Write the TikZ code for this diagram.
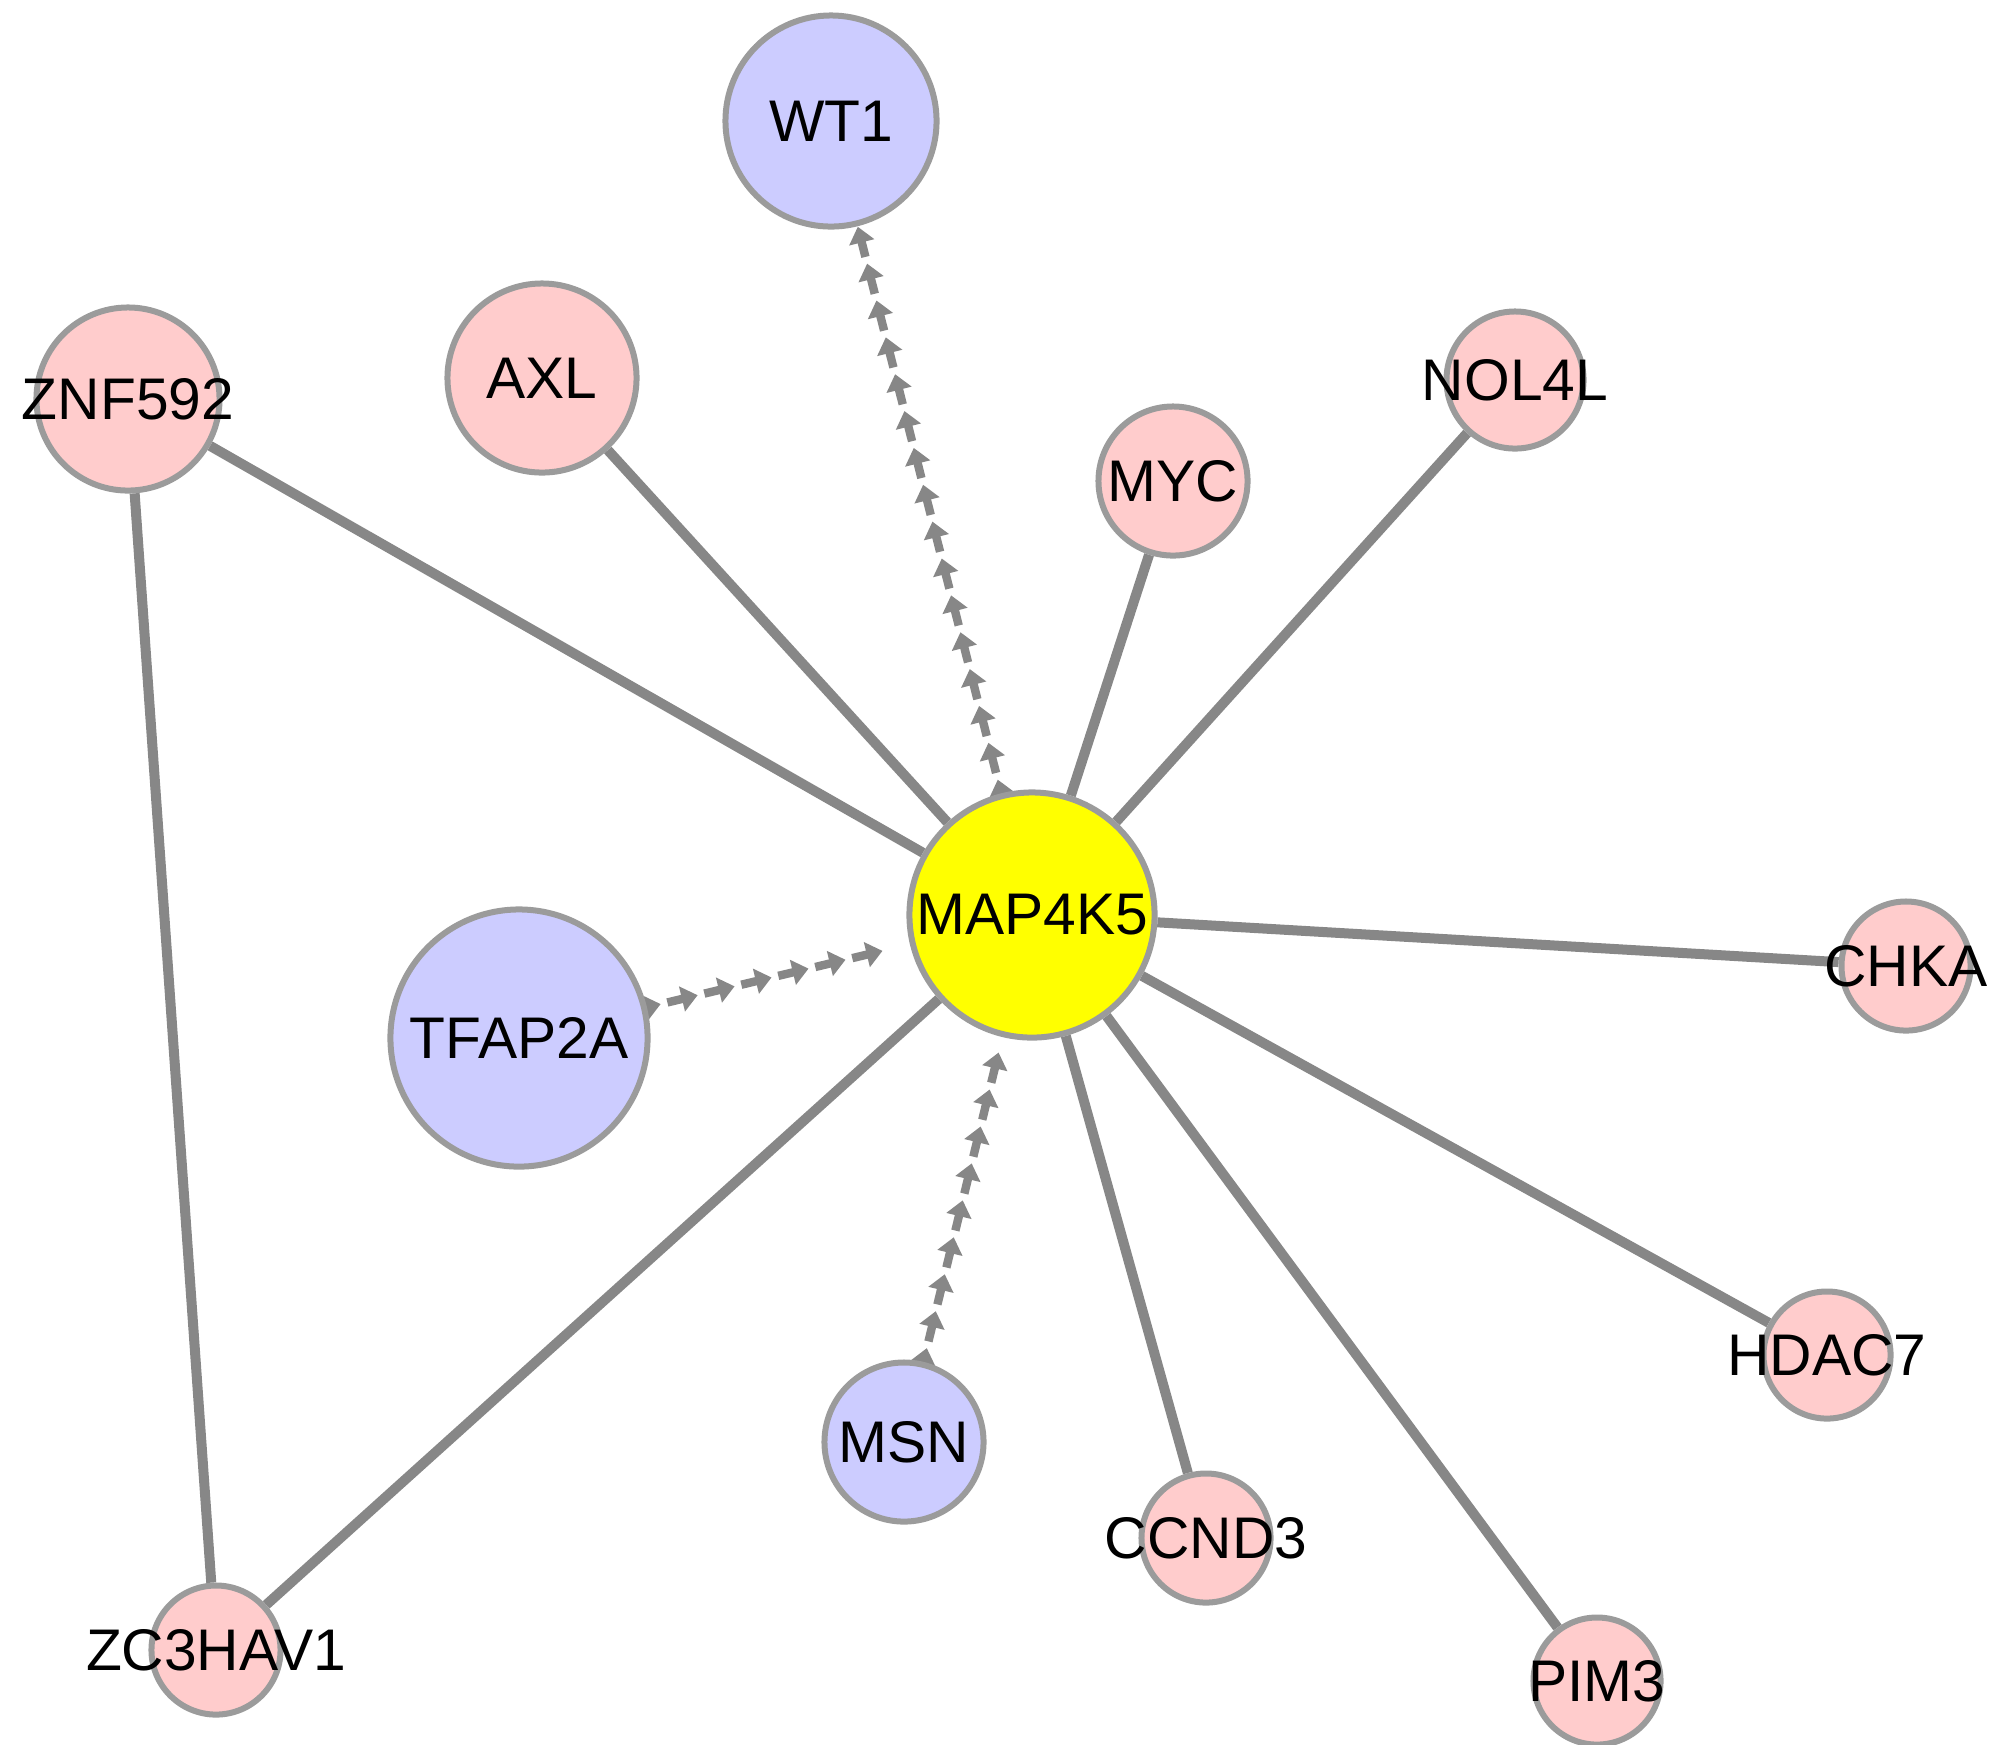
\documentclass[tikz,border=0pt]{standalone}
\usepackage{fontspec}
\setmainfont{Liberation Sans}
\usetikzlibrary{decorations.markings, backgrounds}

\definecolor{linkgray}{RGB}{135,135,135}
\definecolor{rimgray}{RGB}{155,155,155}
\definecolor{pinkfill}{RGB}{255,204,204}
\definecolor{bluefill}{RGB}{204,204,255}
\definecolor{hubfill}{RGB}{255,255,0}

\tikzset{
	gene/.style={circle, draw=rimgray, line width=0.06cm, inner sep=0pt, minimum size=#1},
	pinkgene/.style={gene=#1, fill=pinkfill},
	bluegene/.style={gene=#1, fill=bluefill},
	hubgene/.style={gene=#1, fill=hubfill},
	link/.style={draw=linkgray, line width=0.1cm},
	regulates/.style={decoration={markings, mark=between positions 0.14cm and 1 step 0.38cm with {
		\fill[linkgray] (-0.31cm,-0.042cm) rectangle (-0.12cm,0.042cm);
		\fill[linkgray] (0,0) -- (-0.16cm,0.13cm) -- (-0.16cm,-0.13cm) -- cycle;}},
		postaction={decorate}}
}

\begin{document}
\begin{tikzpicture}[x=0.01cm, y=-0.01cm, font=\fontsize{16.7}{20}\selectfont]
	\useasboundingbox (0,0) rectangle (2001,1744);
	% genes
	\node[hubgene=2.45cm, label=center:MAP4K5] (map) at (1032,915) {};
	\node[bluegene=2.11cm, label=center:WT1] (wt) at (831,121) {};
	\node[bluegene=2.57cm, label=center:TFAP2A] (tfap) at (519,1038) {};
	\node[bluegene=1.59cm, label=center:MSN] (msn) at (904,1442) {};
	\node[pinkgene=1.89cm, label=center:AXL] (axl) at (542,378) {};
	\node[pinkgene=1.83cm, label=center:ZNF592] (znf) at (128,399) {};
	\node[pinkgene=1.49cm, label=center:MYC] (myc) at (1173,481) {};
	\node[pinkgene=1.37cm, label=center:NOL4L] (nol) at (1515,380) {};
	\node[pinkgene=1.29cm, label=center:CHKA] (chka) at (1906,966) {};
	\node[pinkgene=1.27cm, label=center:HDAC7] (hdac) at (1827,1355) {};
	\node[pinkgene=1.29cm, label=center:CCND3] (ccnd) at (1206,1538) {};
	\node[pinkgene=1.27cm, label=center:PIM3] (pim) at (1597,1681) {};
	\node[pinkgene=1.29cm, label=center:ZC3HAV1] (zc) at (216,1650) {};
	% links
	\begin{scope}[on background layer]
		\foreach \g in {znf, axl, myc, nol, chka, hdac, pim, ccnd, zc}
			\draw[link] (map) -- (\g);
		\draw[link] (znf) -- (zc);
		\path[regulates] (map) -- (wt);
		\path[regulates] (tfap) -- (map);
		\path[regulates] (msn) -- (map);
	\end{scope}
\end{tikzpicture}
\end{document}
